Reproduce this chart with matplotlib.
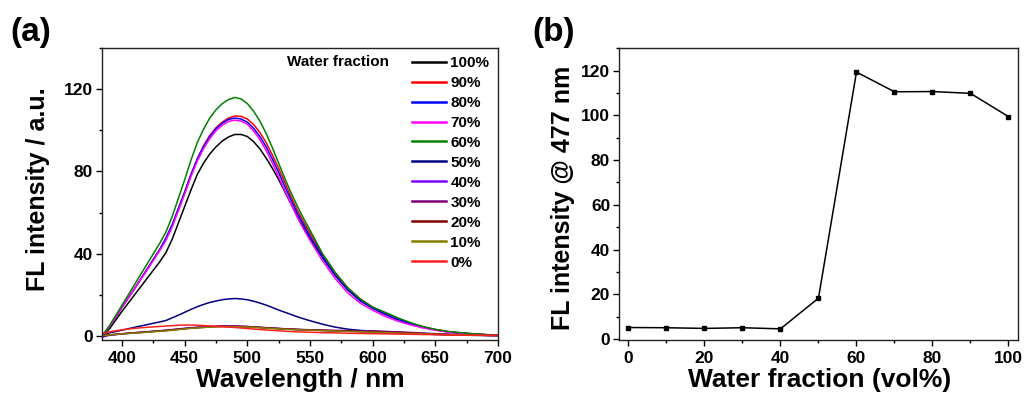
import matplotlib
matplotlib.use("Agg")
import matplotlib.pyplot as plt
from matplotlib.ticker import MultipleLocator

plt.rcParams['font.family'] = ['Liberation Sans', 'DejaVu Sans']
plt.rcParams['font.weight'] = 'bold'

# ---------------- data: panel (a) ----------------
wavelength = [385, 390, 400, 410, 420, 430, 435,
              440, 445, 450, 455, 460, 465, 470, 475, 480, 485, 490, 495, 500,
              505, 510, 515, 520, 525, 530, 535, 540, 545, 550,
              560, 570, 580, 590, 600, 610, 620, 630, 640, 650, 660, 670, 680, 690, 700]

fl_100 = [0.3, 3.5, 12, 20, 28, 36, 40.5,
          47, 55, 63, 71, 78.5, 84, 88.5, 92, 94.8, 96.8, 98, 98, 97,
          94.5, 91, 86.5, 81.5, 76, 70, 64, 58, 52.5, 47.5,
          38, 29.5, 22.5, 17.5, 13.5, 10.5, 8, 6, 4.3, 3, 2, 1.4, 0.9, 0.6, 0.3]
fl_90 = [0.8, 4.5, 14, 23, 32.5, 42, 47.5,
         54, 62, 70, 78.5, 86, 92.5, 97.5, 101.3, 104, 106, 107, 106.8, 105.5,
         102.8, 99, 94, 88, 81.5, 74.5, 67.5, 61, 55.3, 50,
         39.5, 30.5, 23.5, 18, 14, 11, 8.5, 6.2, 4.4, 3.1, 2.1, 1.5, 1.0, 0.6, 0.3]
fl_80 = [0.8, 4.5, 14, 23, 32.5, 42, 47.5,
         54, 62, 70, 78.5, 86, 92, 97, 100.8, 103.5, 105.3, 106, 105.5, 104,
         101, 97, 92, 86, 79.5, 72.5, 66, 59.5, 54, 48.5,
         38.5, 29.5, 22.5, 17, 13.5, 10.5, 8, 6, 4.2, 3, 2, 1.4, 0.9, 0.6, 0.3]
fl_70 = [0.8, 4.5, 14, 23, 32, 41.5, 46.5,
         53, 61, 69, 77.5, 85, 91, 96, 99.8, 102.5, 104.3, 105, 104.5, 103,
         99.7, 95.5, 90.2, 84, 77.3, 70.5, 64, 57.5, 51.8, 46.5,
         36.5, 28, 21, 16, 12.5, 9.5, 7.2, 5.4, 3.9, 2.8, 1.9, 1.3, 0.9, 0.5, 0.3]
fl_60 = [0.8, 5, 15, 25, 35, 45, 50.5,
         58, 67, 76, 85.5, 94, 100.5, 106, 110, 113, 115, 116, 115.3, 113,
         109.3, 104.5, 98.5, 91.5, 84, 76.5, 69.5, 63, 57, 51.5,
         40, 31, 23.5, 18, 14, 11.5, 8.8, 6.5, 4.6, 3.2, 2.2, 1.6, 1.1, 0.7, 0.4]
fl_50 = [0.5, 1.5, 2.8, 4.2, 5.5, 6.8, 7.5,
         8.8, 10.1, 11.5, 12.9, 14.2, 15.3, 16.3, 17.0, 17.6, 18.0, 18.2, 18.0, 17.6,
         16.9, 16, 15, 13.8, 12.6, 11.5, 10.4, 9.3, 8.3, 7.4,
         5.7, 4.3, 3.3, 2.7, 2.3, 2.0, 1.7, 1.3, 1.0, 0.7, 0.5, 0.4, 0.3, 0.2, 0.1]
fl_40 = [-0.5, 0.3, 1.0, 1.5, 2.0, 2.5, 2.8,
         3.1, 3.4, 3.7, 4.0, 4.2, 4.4, 4.6, 4.7, 4.8, 4.8, 4.8, 4.7, 4.6,
         4.4, 4.2, 4.0, 3.8, 3.6, 3.4, 3.25, 3.1, 3.0, 2.9,
         2.7, 2.5, 2.4, 2.3, 2.2, 2.0, 1.8, 1.5, 1.2, 0.9, 0.7, 0.5, 0.4, 0.3, 0.2]
fl_30 = [0.0, 0.5, 1.1, 1.6, 2.0, 2.5, 2.7,
         3.0, 3.3, 3.6, 3.9, 4.1, 4.3, 4.5, 4.6, 4.7, 4.7, 4.7, 4.6, 4.5,
         4.35, 4.2, 4.0, 3.8, 3.65, 3.5, 3.35, 3.2, 3.1, 3.0,
         2.8, 2.7, 2.6, 2.5, 2.4, 2.2, 2.0, 1.7, 1.4, 1.1, 0.8, 0.6, 0.4, 0.3, 0.2]
fl_20 = [0.1, 0.5, 1.0, 1.5, 1.9, 2.4, 2.6,
         2.9, 3.2, 3.5, 3.8, 4.0, 4.2, 4.4, 4.6, 4.7, 4.7, 4.7, 4.6, 4.5,
         4.3, 4.1, 3.9, 3.7, 3.55, 3.4, 3.25, 3.1, 3.0, 2.9,
         2.7, 2.5, 2.3, 2.1, 1.9, 1.7, 1.5, 1.3, 1.1, 0.9, 0.7, 0.5, 0.4, 0.3, 0.2]
fl_10 = [0.2, 0.5, 1.0, 1.4, 1.8, 2.3, 2.5,
         2.8, 3.1, 3.4, 3.7, 3.9, 4.1, 4.3, 4.4, 4.5, 4.5, 4.5, 4.4, 4.3,
         4.15, 4.0, 3.8, 3.6, 3.45, 3.3, 3.15, 3.0, 2.9, 2.8,
         2.6, 2.4, 2.2, 2.0, 1.8, 1.6, 1.4, 1.2, 1.0, 0.8, 0.6, 0.5, 0.4, 0.3, 0.2]
fl_0 = [1.2, 2.0, 3.0, 3.7, 4.2, 4.6, 4.8,
        5.0, 5.2, 5.3, 5.3, 5.2, 5.05, 4.9, 4.7, 4.5, 4.3, 4.1, 3.85, 3.6,
        3.35, 3.1, 2.9, 2.7, 2.5, 2.3, 2.15, 2.0, 1.9, 1.8,
        1.6, 1.5, 1.3, 1.2, 1.1, 1.0, 0.9, 0.8, 0.7, 0.6, 0.5, 0.4, 0.3, 0.3, 0.2]

series_labels = ['100%', '90%', '80%', '70%', '60%', '50%', '40%', '30%', '20%', '10%', '0%']
series_values = [fl_100, fl_90, fl_80, fl_70, fl_60, fl_50, fl_40, fl_30, fl_20, fl_10, fl_0]
series_colors = ['#000000', '#FF0000', '#0000FF', '#FF00FF', '#008000', '#000080',
                 '#8000FF', '#800080', '#800000', '#808000', '#FF2020']

# ---------------- data: panel (b) ----------------
water_fraction = [0, 10, 20, 30, 40, 50, 60, 70, 80, 90, 100]
fl_477 = [5.2, 5.1, 4.8, 5.1, 4.6, 18.3, 119.3, 110.5, 110.6, 109.8, 99.4]

# ---------------- figure ----------------
fig = plt.figure(figsize=(10.27, 4.01), dpi=100)
ax1 = fig.add_axes([0.0993, 0.152, 0.3856, 0.728])
ax2 = fig.add_axes([0.6027, 0.152, 0.3885, 0.728])

for vals, lab, col in zip(series_values, series_labels, series_colors):
    ax1.plot(wavelength, vals, color=col, lw=1.1, label=lab)

ax1.set_xlim(384, 700)
ax1.set_ylim(-2, 140)
ax1.xaxis.set_major_locator(MultipleLocator(50))
ax1.xaxis.set_minor_locator(MultipleLocator(25))
ax1.yaxis.set_major_locator(MultipleLocator(40))
ax1.yaxis.set_minor_locator(MultipleLocator(20))
ax1.set_xlabel('Wavelength / nm', fontsize=19, fontweight='bold')
ax1.set_ylabel('FL intensity / a.u.', fontsize=18, fontweight='bold')

ax1.text(0.467, 0.952, 'Water fraction', transform=ax1.transAxes, fontsize=11,
         fontweight='bold', va='center', ha='left')
leg = ax1.legend(loc='upper left', bbox_to_anchor=(0.783, 0.973), frameon=False,
                 fontsize=11, handlelength=2.2, handletextpad=0.3, labelspacing=0.39,
                 borderpad=0, borderaxespad=0)
for line in leg.get_lines():
    line.set_linewidth(1.8)
for t in leg.get_texts():
    t.set_fontweight('bold')

ax2.plot(water_fraction, fl_477, color='black', lw=1.1, marker='s', markersize=3)
ax2.set_xlim(-2.5, 102.5)
ax2.set_ylim(-0.4, 130)
ax2.xaxis.set_major_locator(MultipleLocator(20))
ax2.xaxis.set_minor_locator(MultipleLocator(10))
ax2.yaxis.set_major_locator(MultipleLocator(20))
ax2.yaxis.set_minor_locator(MultipleLocator(10))
ax2.set_xlabel('Water fraction (vol%)', fontsize=19, fontweight='bold')
ax2.set_ylabel('FL intensity @ 477 nm', fontsize=18, fontweight='bold')

for ax in (ax1, ax2):
    for s in ax.spines.values():
        s.set_linewidth(1.0)
        s.set_color('#222222')
    ax.tick_params(which='major', direction='out', length=4.3, width=1.0, labelsize=12.5)
    ax.tick_params(which='minor', direction='out', length=2.5, width=1.0)
    ax.tick_params(axis='x', which='major', pad=3.5)
    ax.tick_params(axis='y', which='major', pad=2)
    for lab in ax.get_xticklabels() + ax.get_yticklabels():
        lab.set_fontweight('bold')

ax1.xaxis.set_label_coords(0.5, -0.097)
ax2.xaxis.set_label_coords(0.504, -0.097)
ax1.yaxis.set_label_coords(-0.13, 0.517)
ax2.yaxis.set_label_coords(-0.11, 0.488)

fig.text(10 / 1027, 1 - 17 / 401, '(a)', fontsize=24, fontweight='bold', va='top', ha='left')
fig.text(532 / 1027, 1 - 17 / 401, '(b)', fontsize=24, fontweight='bold', va='top', ha='left')

fig.savefig('out.png', dpi=100)
